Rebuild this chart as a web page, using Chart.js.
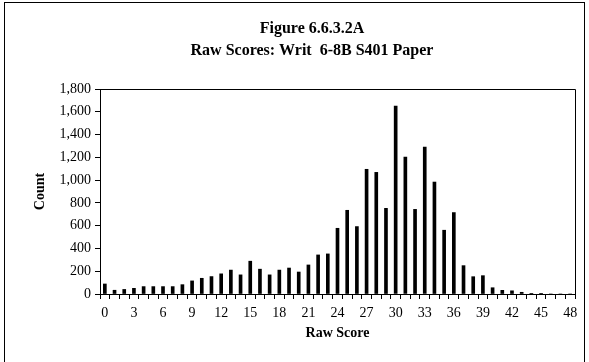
<!DOCTYPE html>
<html>
<head>
<meta charset="utf-8">
<script src="https://cdn.jsdelivr.net/npm/chart.js@4/dist/chart.umd.min.js"></script>
<style>
  html, body { margin: 0; padding: 0; background: #fff; }
  canvas { display: block; }
</style>
</head>
<body>
<canvas id="c" width="589" height="362"></canvas>
<script>
const titleLines = ["Figure 6.6.3.2A", "Raw Scores: Writ  6-8B S401 Paper"];
const categories = ["0","1","2","3","4","5","6","7","8","9","10","11","12","13","14","15","16","17","18","19","20","21","22","23","24","25","26","27","28","29","30","31","32","33","34","35","36","37","38","39","40","41","42","43","44","45","46","47","48"];
const counts = [88, 33, 40, 50, 65, 65, 65, 65, 82, 115, 138, 153, 177, 210, 168, 288, 218, 168, 210, 228, 193, 255, 343, 352, 577, 735, 592, 1095, 1068, 752, 1650, 1203, 743, 1290, 983, 560, 715, 249, 152, 161, 55, 32, 28, 15, 3, 1, 0, 0, 0];
const yTicks = [0, 200, 400, 600, 800, 1000, 1200, 1400, 1600, 1800];
const xTitle = "Raw Score";
const yTitle = "Count";

const serif = "'Liberation Serif', 'Times New Roman', serif";

const framePlugin = {
  id: 'frame',
  afterDraw(chart) {
    const ctx = chart.ctx;
    const a = chart.chartArea;
    ctx.save();
    ctx.strokeStyle = '#000';
    ctx.lineWidth = 1;
    ctx.beginPath();
    ctx.moveTo(Math.round(a.left) + 0.5, Math.round(a.top) + 0.5);
    ctx.lineTo(Math.round(a.right) + 0.5, Math.round(a.top) + 0.5);
    ctx.lineTo(Math.round(a.right) + 0.5, Math.round(a.bottom) + 0.5);
    ctx.stroke();
    ctx.strokeRect(4.5, 2.5, 580, 400);
    ctx.fillStyle = '#000';
    ctx.font = "bold 16px " + serif;
    ctx.textAlign = 'center';
    ctx.textBaseline = 'middle';
    ctx.fillText(titleLines[0], 312, 29);
    ctx.fillText(titleLines[1], 312, 51);
    ctx.restore();
  }
};

new Chart(document.getElementById('c'), {
  type: 'bar',
  data: {
    labels: categories,
    datasets: [{
      data: counts,
      backgroundColor: '#000',
      borderWidth: 0,
      barThickness: 3
    }]
  },
  options: {
    responsive: false,
    devicePixelRatio: 1,
    animation: false,
    layout: { padding: { top: 89, right: 14, left: 0, bottom: 0 } },
    plugins: {
      legend: { display: false },
      title: { display: false },
      tooltip: { enabled: false }
    },
    scales: {
      x: {
        offset: true,
        afterFit(scale) { scale.height = 68; },
        border: { display: true, color: '#000', width: 1 },
        grid: { offset: true, drawOnChartArea: false, drawTicks: true, tickLength: 5, color: '#000' },
        ticks: {
          autoSkip: false,
          maxRotation: 0,
          padding: 6,
          color: '#000',
          font: { family: serif, size: 14 },
          callback(v, i) { return i % 3 === 0 ? categories[i] : ''; }
        },
        title: {
          display: true,
          text: xTitle,
          color: '#000',
          font: { family: serif, size: 14, weight: 'bold' },
          padding: { top: 0, bottom: 20 }
        }
      },
      y: {
        min: 0,
        max: 1800,
        afterFit(scale) { scale.width = 100; },
        afterBuildTicks(scale) { scale.ticks = yTicks.map(v => ({ value: v })); },
        border: { display: true, color: '#000', width: 1 },
        grid: { drawOnChartArea: false, drawTicks: true, tickLength: 5, color: '#000' },
        ticks: {
          padding: 4,
          color: '#000',
          font: { family: serif, size: 14 },
          callback(v) { return v.toLocaleString('en-US'); }
        },
        title: {
          display: true,
          text: yTitle,
          color: '#000',
          font: { family: serif, size: 14, weight: 'bold' },
          padding: { top: 32, bottom: 0 }
        }
      }
    }
  },
  plugins: [framePlugin]
});
</script>
</body>
</html>
